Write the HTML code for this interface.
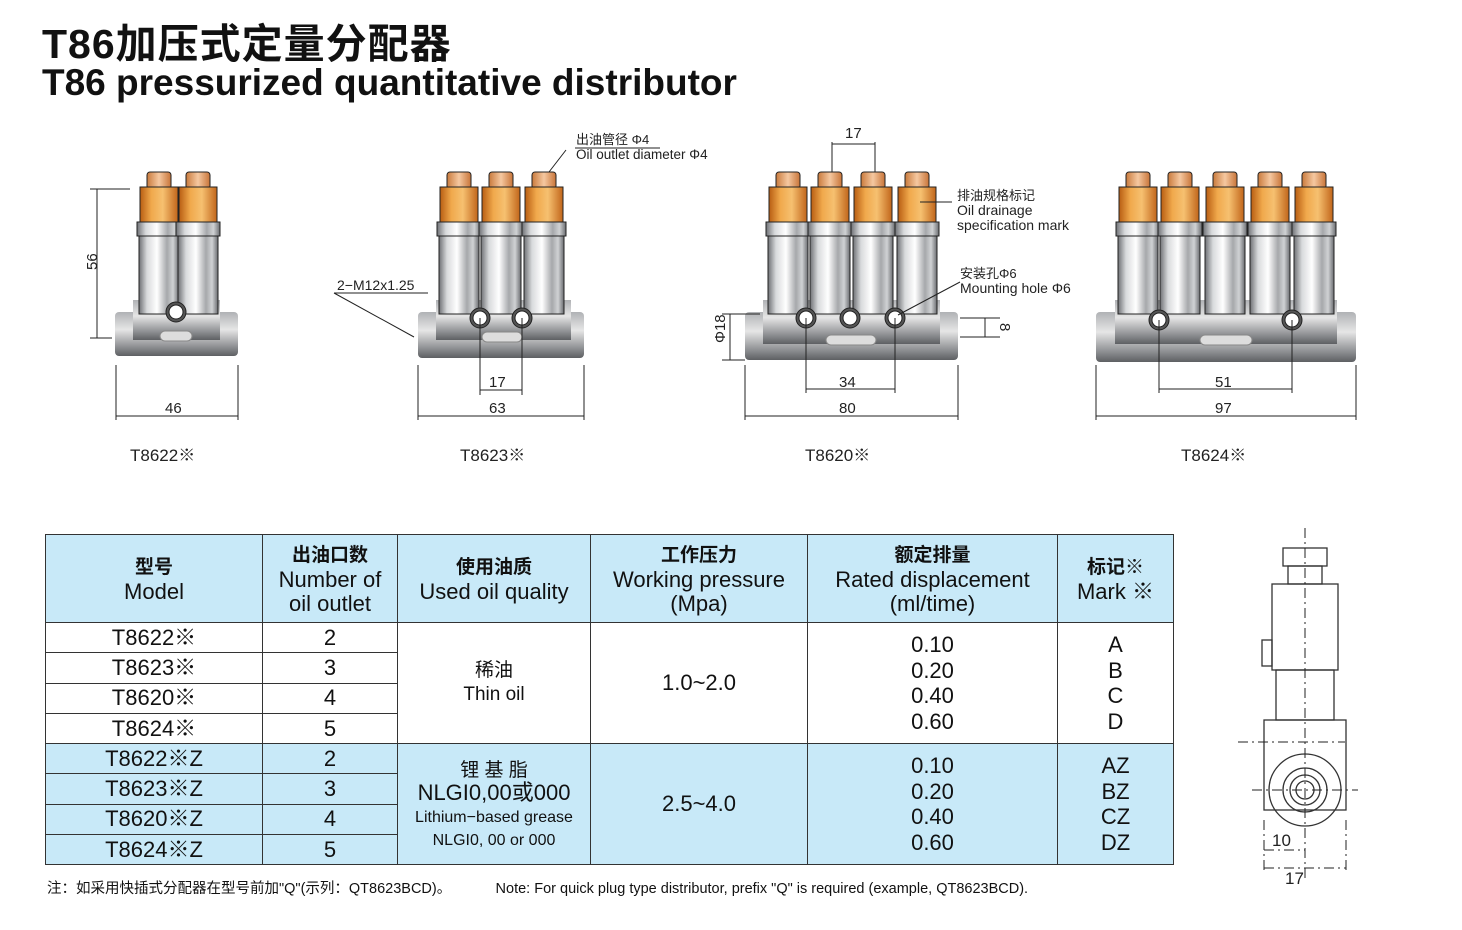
<!DOCTYPE html>
<html><head><meta charset="utf-8"><style>
html,body{margin:0;padding:0;background:#fff}
body{width:1462px;height:930px;position:relative;overflow:hidden;font-family:"Liberation Sans","Noto Sans CJK SC",sans-serif;color:#111}
.t1{position:absolute;left:42px;top:10px;font-size:41px;font-weight:bold;letter-spacing:1px}
.t2{position:absolute;left:42px;top:62px;font-size:37px;font-weight:bold}
table{position:absolute;left:45px;top:534px;border-collapse:collapse;font-size:22px;text-align:center}
td{border:1.5px solid #333;padding:0;line-height:24px}
.h td{background:#c8e9f8;height:87px;line-height:24px}
.b{background:#c8e9f8}
.note{position:absolute;left:47px;top:877px;font-size:14.5px}
</style></head><body>
<div class="t1">T86加压式定量分配器</div>
<div class="t2">T86 pressurized quantitative distributor</div>
<svg width="1462" height="930" style="position:absolute;left:0;top:0" font-family="Liberation Sans, Noto Sans CJK SC, sans-serif">
<defs>
<linearGradient id="sv" x1="0" x2="1"><stop offset="0" stop-color="#6e7074"/><stop offset=".2" stop-color="#d8dadc"/><stop offset=".45" stop-color="#ffffff"/><stop offset=".7" stop-color="#a6a8ab"/><stop offset=".85" stop-color="#d0d2d4"/><stop offset="1" stop-color="#6a6c70"/></linearGradient>
<linearGradient id="bs" x1="0" y1="0" x2="0" y2="1"><stop offset="0" stop-color="#b0b2b5"/><stop offset=".4" stop-color="#e6e6e6"/><stop offset=".8" stop-color="#8c8e91"/><stop offset="1" stop-color="#5e6063"/></linearGradient>
<linearGradient id="or" x1="0" x2="1"><stop offset="0" stop-color="#b85d12"/><stop offset=".3" stop-color="#f0a94c"/><stop offset=".6" stop-color="#f6c070"/><stop offset="1" stop-color="#c1651a"/></linearGradient>
<linearGradient id="oc" x1="0" x2="1"><stop offset="0" stop-color="#c97a3c"/><stop offset=".5" stop-color="#f5c8a0"/><stop offset="1" stop-color="#c87438"/></linearGradient>
<g id="m"><rect x="-12" y="0" width="24" height="17" rx="3" fill="url(#oc)"/><rect x="-19" y="15" width="38" height="35" fill="url(#or)"/><rect x="-22" y="50" width="44" height="14" fill="url(#sv)"/><rect x="-20" y="64" width="40" height="78" fill="url(#sv)"/></g>
<g id="h"><circle r="10" fill="#555"/><circle r="7" fill="#fff"/></g>
</defs>
<g stroke="#222" stroke-width="1" fill="none">
<rect x="115" y="312" width="123" height="44" rx="4" fill="url(#bs)" stroke="none"/>
<rect x="133" y="300" width="87" height="40" fill="url(#bs)" stroke="none"/>
<use href="#m" x="159" y="172"/><use href="#m" x="198" y="172"/>
<use href="#h" x="176" y="312"/>
<rect x="160" y="331" width="32" height="10" rx="5" fill="#ddd" stroke="#888"/>
<path d="M90 189H130M90 338H112M97 189V338M116 365V420M238 365V420M116 416H238"/>
<rect x="418" y="312" width="166" height="46" rx="4" fill="url(#bs)" stroke="none"/>
<rect x="436" y="300" width="135" height="40" fill="url(#bs)" stroke="none"/>
<use href="#m" x="459" y="172"/><use href="#m" x="501" y="172"/><use href="#m" x="544" y="172"/>
<use href="#h" x="480" y="318"/><use href="#h" x="522" y="318"/>
<rect x="482" y="332" width="40" height="10" rx="5" fill="#ddd" stroke="#888"/>
<path d="M480 318V395M522 318V395M480 390H522M418 365V420M584 365V420M418 416H584M334 293H428M334 293L414 337M549 172L566 150"/>
<path d="M575 148H660"/>
<rect x="745" y="312" width="213" height="48" rx="4" fill="url(#bs)" stroke="none"/>
<rect x="763" y="300" width="177" height="44" fill="url(#bs)" stroke="none"/>
<use href="#m" x="788" y="172"/><use href="#m" x="830" y="172"/><use href="#m" x="873" y="172"/><use href="#m" x="917" y="172"/>
<use href="#h" x="806" y="318"/><use href="#h" x="850" y="318"/><use href="#h" x="895" y="318"/>
<rect x="826" y="335" width="50" height="10" rx="5" fill="#ddd" stroke="#888"/>
<path d="M832 142V172M875 142V172M832 144H875M806 318V393M895 318V393M806 389H895M745 365V420M958 365V420M745 416H958M722 314H760M722 360H745M730 314V360M960 318H1000M960 337H1000M985 318V337M920 202H952M898 315L960 282"/>
<rect x="1096" y="312" width="260" height="50" rx="4" fill="url(#bs)" stroke="none"/>
<rect x="1115" y="300" width="222" height="44" fill="url(#bs)" stroke="none"/>
<use href="#m" x="1138" y="172"/><use href="#m" x="1180" y="172"/><use href="#m" x="1225" y="172"/><use href="#m" x="1270" y="172"/><use href="#m" x="1314" y="172"/>
<use href="#h" x="1159" y="320"/><use href="#h" x="1292" y="320"/>
<rect x="1200" y="335" width="52" height="10" rx="5" fill="#ddd" stroke="#888"/>
<path d="M1159 320V393M1292 320V393M1159 389H1292M1096 365V420M1356 365V420M1096 416H1356"/>
<g stroke="#333" stroke-width="1.3">
<rect x="1283" y="548" width="44" height="18"/><rect x="1288" y="566" width="34" height="18"/><rect x="1272" y="584" width="66" height="86"/><rect x="1262" y="640" width="10" height="26"/><rect x="1276" y="670" width="58" height="50"/><rect x="1264" y="720" width="82" height="90"/>
<circle cx="1305" cy="790" r="36"/><circle cx="1305" cy="790" r="22"/><circle cx="1305" cy="790" r="15"/><circle cx="1305" cy="790" r="9"/>
</g>
<path d="M1305 528V880M1238 742H1345M1252 790H1358M1264 820V872M1346 820V872M1264 850H1305M1264 868H1346" stroke-dasharray="10 4 2 4"/>
</g>
<g font-size="15" fill="#222">
<text x="165" y="413">46</text><text x="92" y="275" transform="rotate(-90 92 270)">56</text><text x="130" y="461" font-size="17">T8622※</text>
<text x="489" y="387">17</text><text x="489" y="413">63</text><text x="337" y="290" font-size="14">2−M12x1.25</text><text x="460" y="461" font-size="17">T8623※</text>
<text x="576" y="144" font-size="13">出油管径   Φ4</text><text x="576" y="159" font-size="13.5">Oil outlet diameter   Φ4</text>
<text x="845" y="138">17</text><text x="839" y="387">34</text><text x="839" y="413">80</text><text x="720" y="352" transform="rotate(-90 718 345)">Φ18</text><text x="998" y="325" transform="rotate(90 1000 325)">8</text>
<text x="957" y="200" font-size="13">排油规格标记</text><text x="957" y="215" font-size="14">Oil drainage</text><text x="957" y="230" font-size="14">specification mark</text>
<text x="960" y="278" font-size="13">安装孔Φ6</text><text x="960" y="293" font-size="14">Mounting hole Φ6</text><text x="805" y="461" font-size="17">T8620※</text>
<text x="1215" y="387">51</text><text x="1215" y="413">97</text><text x="1181" y="461" font-size="17">T8624※</text>
<text x="1272" y="846" font-size="17">10</text><text x="1285" y="884" font-size="17">17</text>
</g>
</svg>
<table>
<tr class="h"><td style="width:216px"><b style="font-size:19px">型号</b><br>Model</td><td style="width:134px"><b style="font-size:19px">出油口数</b><br>Number of<br>oil outlet</td><td style="width:192px"><b style="font-size:19px">使用油质</b><br>Used oil quality</td><td style="width:216px"><b style="font-size:19px">工作压力</b><br>Working pressure<br>(Mpa)</td><td style="width:249px"><b style="font-size:19px">额定排量</b><br>Rated displacement<br>(ml/time)</td><td style="width:115px"><b style="font-size:19px">标记※</b><br>Mark ※</td></tr>
<tr style="height:30.3px"><td>T8622※</td><td>2</td><td rowspan="4" style="font-size:19px">稀油<br>Thin oil</td><td rowspan="4">1.0~2.0</td><td rowspan="4" style="line-height:25.5px">0.10<br>0.20<br>0.40<br>0.60</td><td rowspan="4" style="line-height:25.5px">A<br>B<br>C<br>D</td></tr>
<tr style="height:30.3px"><td>T8623※</td><td>3</td></tr>
<tr style="height:30.3px"><td>T8620※</td><td>4</td></tr>
<tr style="height:30.3px"><td>T8624※</td><td>5</td></tr>
<tr style="height:30.3px" class="b"><td>T8622※Z</td><td>2</td><td rowspan="4" style="line-height:22px"><span style="font-size:19px">锂 基 脂</span><br>NLGI0,00或000<br><span style="font-size:16px;line-height:18px">Lithium−based grease<br>NLGI0, 00 or 000</span></td><td rowspan="4">2.5~4.0</td><td rowspan="4" style="line-height:25.5px">0.10<br>0.20<br>0.40<br>0.60</td><td rowspan="4" style="line-height:25.5px">AZ<br>BZ<br>CZ<br>DZ</td></tr>
<tr style="height:30.3px" class="b"><td>T8623※Z</td><td>3</td></tr>
<tr style="height:30.3px" class="b"><td>T8620※Z</td><td>4</td></tr>
<tr style="height:30.3px" class="b"><td>T8624※Z</td><td>5</td></tr>
</table>
<div class="note">注：如采用快插式分配器在型号前加"Q"(示列：QT8623BCD)。&nbsp;&nbsp;&nbsp;&nbsp;&nbsp;&nbsp;&nbsp;&nbsp;&nbsp;&nbsp;&nbsp;Note: For quick plug type distributor, prefix "Q" is required (example, QT8623BCD).</div>
</body></html>
